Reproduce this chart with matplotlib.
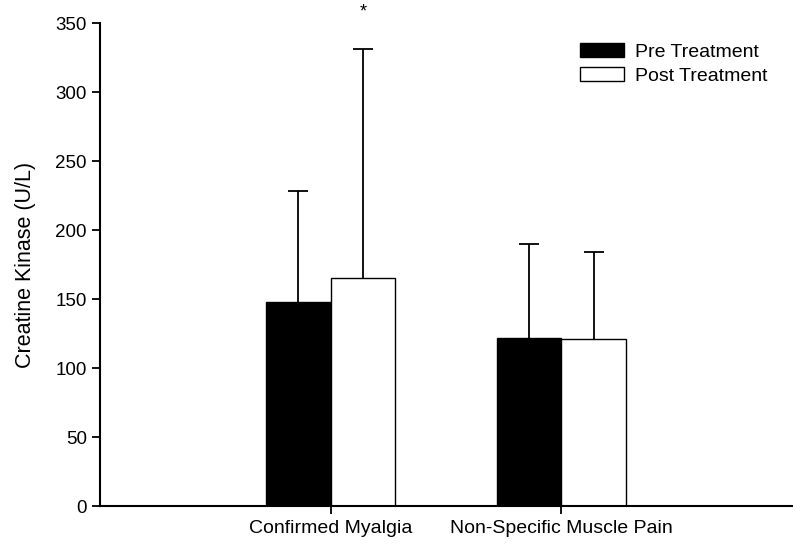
import matplotlib
matplotlib.use("Agg")
import matplotlib.pyplot as plt
import numpy as np

plt.rcParams['font.family'] = ['Liberation Sans', 'DejaVu Sans']

categories = ["Confirmed Myalgia", "Non-Specific Muscle Pain"]
pre_mean = [147.5, 122]
post_mean = [165.5, 121]
pre_err = [80.5, 68]
post_err = [165.5, 63]
series_labels = ["Pre Treatment", "Post Treatment"]
yticks = [0, 50, 100, 150, 200, 250, 300, 350]

fig = plt.figure(figsize=(8, 5.52), dpi=100)
ax = fig.add_axes([0.125, 0.0833, 0.865, 0.875])

x = np.arange(len(categories))
w = 0.28
ax.bar(x - w/2, pre_mean, w, color='black', edgecolor='black', linewidth=1.0,
       label=series_labels[0], zorder=2)
ax.bar(x + w/2, post_mean, w, color='white', edgecolor='black', linewidth=1.0,
       label=series_labels[1], zorder=2)
for xs, m, e in [(x - w/2, pre_mean, pre_err), (x + w/2, post_mean, post_err)]:
    cont = ax.errorbar(xs, m, yerr=[np.zeros(len(x)), e], fmt='none',
                       ecolor='black', elinewidth=1.3, capsize=7, capthick=1.3,
                       zorder=1)
    caps = cont.lines[1]
    if len(caps) > 1:
        caps[0].set_visible(False)

# significance marker
ax.annotate('*', xy=(x[0] + w/2, post_mean[0] + post_err[0]), xytext=(0, 21),
            textcoords='offset points', ha='center', va='bottom', fontsize=13,
            annotation_clip=False)

ax.set_xlim(-1, 2)
ax.set_ylim(0, 350)
ax.set_yticks(yticks)
ax.set_xticks(x)
ax.set_xticklabels(categories, fontsize=14)
ax.tick_params(axis='y', labelsize=13.5, direction='out', length=6, width=1.3)
ax.tick_params(axis='x', direction='out', length=6, width=1.3, pad=4)
ax.set_ylabel("Creatine Kinase (U/L)", fontsize=15.5, labelpad=14)

for s in ['top', 'right']:
    ax.spines[s].set_visible(False)
for s in ['left', 'bottom']:
    ax.spines[s].set_linewidth(1.5)

leg = ax.legend(loc='upper right', bbox_to_anchor=(0.99, 0.995), frameon=False,
                fontsize=14, handlelength=2.3, handleheight=0.7,
                handletextpad=0.55, labelspacing=0.35)

fig.savefig("out.png", dpi=100)
